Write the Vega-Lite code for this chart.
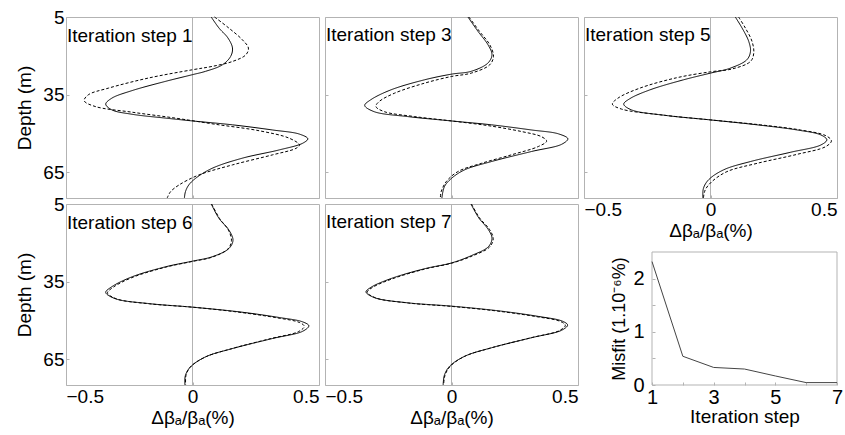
{
  "$schema": "https://vega.github.io/schema/vega-lite/v6.json",
  "padding": {"left": 15, "top": 7, "right": 2, "bottom": 0},
  "background": "white",
  "config": {
    "font": "Liberation Sans",
    "view": {"stroke": "#b3b3b3", "strokeWidth": 1},
    "axis": {"domain": false, "grid": false, "labelFont": "Liberation Sans", "labelFontSize": 19, "labelColor": "#000", "titleFont": "Liberation Sans", "titleFontSize": 19, "titleFontWeight": "normal", "titleColor": "#000", "tickColor": "#b3b3b3", "tickSize": -3, "labelPadding": 5},
    "title": {"font": "Liberation Sans", "fontSize": 19, "fontWeight": "normal", "color": "#000", "anchor": "start", "frame": "group", "baseline": "alphabetic", "dx": 1}
  },
  "datasets": {
    "zero": [{"v": 0}],
    "misfit": [
      {"step": 1, "misfit": 2.32}, {"step": 2, "misfit": 0.54}, {"step": 3, "misfit": 0.33}, {"step": 4, "misfit": 0.30}, {"step": 5, "misfit": 0.17}, {"step": 6, "misfit": 0.045}, {"step": 7, "misfit": 0.045}
    ],
    "profiles": [
      {"p":1,"s":"solid","d":5,"v":0.074},{"p":1,"s":"solid","d":9.3,"v":0.105},{"p":1,"s":"solid","d":13.1,"v":0.140},{"p":1,"s":"solid","d":17.0,"v":0.158},{"p":1,"s":"solid","d":20.2,"v":0.151},{"p":1,"s":"solid","d":23.5,"v":0.118},{"p":1,"s":"solid","d":26.0,"v":0.052},{"p":1,"s":"solid","d":27.3,"v":0},{"p":1,"s":"solid","d":29.9,"v":-0.107},{"p":1,"s":"solid","d":33.5,"v":-0.24},{"p":1,"s":"solid","d":36.4,"v":-0.319},{"p":1,"s":"solid","d":38.7,"v":-0.343},{"p":1,"s":"solid","d":40.9,"v":-0.319},{"p":1,"s":"solid","d":42.6,"v":-0.24},{"p":1,"s":"solid","d":44.1,"v":-0.107},{"p":1,"s":"solid","d":45.2,"v":0},{"p":1,"s":"solid","d":46.7,"v":0.158},{"p":1,"s":"solid","d":48.7,"v":0.317},{"p":1,"s":"solid","d":50.3,"v":0.423},{"p":1,"s":"solid","d":52.1,"v":0.456},{"p":1,"s":"solid","d":53.8,"v":0.436},{"p":1,"s":"solid","d":56.4,"v":0.343},{"p":1,"s":"solid","d":59.6,"v":0.197},{"p":1,"s":"solid","d":63.5,"v":0.078},{"p":1,"s":"solid","d":67.4,"v":0.012},{"p":1,"s":"solid","d":70.0,"v":-0.015},{"p":1,"s":"solid","d":72.6,"v":-0.028},{"p":1,"s":"solid","d":75,"v":-0.032},
      {"p":1,"s":"dashed","d":5,"v":0.087},{"p":1,"s":"dashed","d":9.3,"v":0.144},{"p":1,"s":"dashed","d":13.8,"v":0.197},{"p":1,"s":"dashed","d":17.0,"v":0.221},{"p":1,"s":"dashed","d":19.6,"v":0.211},{"p":1,"s":"dashed","d":22.2,"v":0.158},{"p":1,"s":"dashed","d":24.1,"v":0.078},{"p":1,"s":"dashed","d":25.4,"v":0},{"p":1,"s":"dashed","d":28.6,"v":-0.174},{"p":1,"s":"dashed","d":32.5,"v":-0.332},{"p":1,"s":"dashed","d":35.1,"v":-0.412},{"p":1,"s":"dashed","d":37.4,"v":-0.428},{"p":1,"s":"dashed","d":39.6,"v":-0.385},{"p":1,"s":"dashed","d":41.8,"v":-0.24},{"p":1,"s":"dashed","d":44.1,"v":-0.068},{"p":1,"s":"dashed","d":46.5,"v":0.091},{"p":1,"s":"dashed","d":49.0,"v":0.264},{"p":1,"s":"dashed","d":51.9,"v":0.383},{"p":1,"s":"dashed","d":54.5,"v":0.423},{"p":1,"s":"dashed","d":55.8,"v":0.409},{"p":1,"s":"dashed","d":58.3,"v":0.317},{"p":1,"s":"dashed","d":62.2,"v":0.158},{"p":1,"s":"dashed","d":66.1,"v":0.025},{"p":1,"s":"dashed","d":70.0,"v":-0.054},{"p":1,"s":"dashed","d":72.6,"v":-0.087},{"p":1,"s":"dashed","d":75,"v":-0.10},
      {"p":3,"s":"solid","d":5,"v":0.065},{"p":3,"s":"solid","d":10.6,"v":0.105},{"p":3,"s":"solid","d":15.7,"v":0.144},{"p":3,"s":"solid","d":19.6,"v":0.160},{"p":3,"s":"solid","d":22.8,"v":0.144},{"p":3,"s":"solid","d":26.0,"v":0.078},{"p":3,"s":"solid","d":27.1,"v":0},{"p":3,"s":"solid","d":29.3,"v":-0.107},{"p":3,"s":"solid","d":33.2,"v":-0.24},{"p":3,"s":"solid","d":37.0,"v":-0.319},{"p":3,"s":"solid","d":39.2,"v":-0.343},{"p":3,"s":"solid","d":41.6,"v":-0.306},{"p":3,"s":"solid","d":43.5,"v":-0.174},{"p":3,"s":"solid","d":45.2,"v":0},{"p":3,"s":"solid","d":46.7,"v":0.158},{"p":3,"s":"solid","d":48.7,"v":0.317},{"p":3,"s":"solid","d":50.2,"v":0.423},{"p":3,"s":"solid","d":52.1,"v":0.46},{"p":3,"s":"solid","d":54.2,"v":0.436},{"p":3,"s":"solid","d":57.0,"v":0.317},{"p":3,"s":"solid","d":60.9,"v":0.158},{"p":3,"s":"solid","d":64.1,"v":0.052},{"p":3,"s":"solid","d":67.4,"v":0},{"p":3,"s":"solid","d":70.6,"v":-0.028},{"p":3,"s":"solid","d":75,"v":-0.038},
      {"p":3,"s":"dashed","d":5,"v":0.069},{"p":3,"s":"dashed","d":10.6,"v":0.111},{"p":3,"s":"dashed","d":15.7,"v":0.151},{"p":3,"s":"dashed","d":20.2,"v":0.166},{"p":3,"s":"dashed","d":23.5,"v":0.151},{"p":3,"s":"dashed","d":26.7,"v":0.078},{"p":3,"s":"dashed","d":28.0,"v":0},{"p":3,"s":"dashed","d":30.6,"v":-0.107},{"p":3,"s":"dashed","d":34.5,"v":-0.226},{"p":3,"s":"dashed","d":37.7,"v":-0.286},{"p":3,"s":"dashed","d":39.6,"v":-0.299},{"p":3,"s":"dashed","d":41.6,"v":-0.266},{"p":3,"s":"dashed","d":43.5,"v":-0.147},{"p":3,"s":"dashed","d":45.2,"v":0},{"p":3,"s":"dashed","d":47.0,"v":0.144},{"p":3,"s":"dashed","d":49.3,"v":0.277},{"p":3,"s":"dashed","d":51.3,"v":0.356},{"p":3,"s":"dashed","d":53.0,"v":0.376},{"p":3,"s":"dashed","d":55.1,"v":0.343},{"p":3,"s":"dashed","d":58.3,"v":0.237},{"p":3,"s":"dashed","d":61.6,"v":0.118},{"p":3,"s":"dashed","d":64.8,"v":0.025},{"p":3,"s":"dashed","d":68.7,"v":-0.021},{"p":3,"s":"dashed","d":72.6,"v":-0.041},{"p":3,"s":"dashed","d":75,"v":-0.044},
      {"p":5,"s":"solid","d":5,"v":0.098},{"p":5,"s":"solid","d":9.3,"v":0.125},{"p":5,"s":"solid","d":14.4,"v":0.151},{"p":5,"s":"solid","d":18.3,"v":0.158},{"p":5,"s":"solid","d":21.5,"v":0.144},{"p":5,"s":"solid","d":24.8,"v":0.078},{"p":5,"s":"solid","d":26.7,"v":0},{"p":5,"s":"solid","d":29.3,"v":-0.107},{"p":5,"s":"solid","d":33.2,"v":-0.24},{"p":5,"s":"solid","d":36.6,"v":-0.319},{"p":5,"s":"solid","d":38.7,"v":-0.343},{"p":5,"s":"solid","d":40.9,"v":-0.313},{"p":5,"s":"solid","d":43.1,"v":-0.174},{"p":5,"s":"solid","d":44.8,"v":0},{"p":5,"s":"solid","d":46.7,"v":0.184},{"p":5,"s":"solid","d":48.7,"v":0.343},{"p":5,"s":"solid","d":50.6,"v":0.436},{"p":5,"s":"solid","d":52.5,"v":0.46},{"p":5,"s":"solid","d":54.5,"v":0.436},{"p":5,"s":"solid","d":57.3,"v":0.317},{"p":5,"s":"solid","d":60.9,"v":0.158},{"p":5,"s":"solid","d":64.1,"v":0.052},{"p":5,"s":"solid","d":68.0,"v":-0.008},{"p":5,"s":"solid","d":71.3,"v":-0.028},{"p":5,"s":"solid","d":75,"v":-0.030},
      {"p":5,"s":"dashed","d":5,"v":0.111},{"p":5,"s":"dashed","d":9.3,"v":0.138},{"p":5,"s":"dashed","d":14.4,"v":0.164},{"p":5,"s":"dashed","d":19.0,"v":0.171},{"p":5,"s":"dashed","d":22.2,"v":0.158},{"p":5,"s":"dashed","d":25.1,"v":0.085},{"p":5,"s":"dashed","d":26.2,"v":0},{"p":5,"s":"dashed","d":28.5,"v":-0.134},{"p":5,"s":"dashed","d":32.5,"v":-0.279},{"p":5,"s":"dashed","d":36.4,"v":-0.366},{"p":5,"s":"dashed","d":38.7,"v":-0.388},{"p":5,"s":"dashed","d":40.6,"v":-0.352},{"p":5,"s":"dashed","d":42.8,"v":-0.2},{"p":5,"s":"dashed","d":44.8,"v":0},{"p":5,"s":"dashed","d":46.7,"v":0.197},{"p":5,"s":"dashed","d":48.7,"v":0.356},{"p":5,"s":"dashed","d":50.9,"v":0.456},{"p":5,"s":"dashed","d":52.9,"v":0.478},{"p":5,"s":"dashed","d":55.1,"v":0.456},{"p":5,"s":"dashed","d":58.1,"v":0.343},{"p":5,"s":"dashed","d":61.6,"v":0.184},{"p":5,"s":"dashed","d":64.8,"v":0.065},{"p":5,"s":"dashed","d":68.7,"v":0.005},{"p":5,"s":"dashed","d":71.9,"v":-0.021},{"p":5,"s":"dashed","d":75,"v":-0.028},
      {"p":6,"s":"solid","d":5,"v":0.074},{"p":6,"s":"solid","d":10.6,"v":0.105},{"p":6,"s":"solid","d":15.1,"v":0.144},{"p":6,"s":"solid","d":19.0,"v":0.160},{"p":6,"s":"solid","d":22.2,"v":0.144},{"p":6,"s":"solid","d":25.4,"v":0.078},{"p":6,"s":"solid","d":27.1,"v":0},{"p":6,"s":"solid","d":29.3,"v":-0.107},{"p":6,"s":"solid","d":33.2,"v":-0.24},{"p":6,"s":"solid","d":37.0,"v":-0.319},{"p":6,"s":"solid","d":39.2,"v":-0.343},{"p":6,"s":"solid","d":41.6,"v":-0.306},{"p":6,"s":"solid","d":43.5,"v":-0.174},{"p":6,"s":"solid","d":44.9,"v":0},{"p":6,"s":"solid","d":46.7,"v":0.184},{"p":6,"s":"solid","d":48.9,"v":0.343},{"p":6,"s":"solid","d":50.6,"v":0.436},{"p":6,"s":"solid","d":52.1,"v":0.46},{"p":6,"s":"solid","d":54.2,"v":0.436},{"p":6,"s":"solid","d":57.0,"v":0.317},{"p":6,"s":"solid","d":60.9,"v":0.158},{"p":6,"s":"solid","d":64.1,"v":0.052},{"p":6,"s":"solid","d":68.0,"v":-0.008},{"p":6,"s":"solid","d":71.3,"v":-0.028},{"p":6,"s":"solid","d":75,"v":-0.030},
      {"p":6,"s":"dashed","d":5,"v":0.076},{"p":6,"s":"dashed","d":10.6,"v":0.107},{"p":6,"s":"dashed","d":15.1,"v":0.142},{"p":6,"s":"dashed","d":19.2,"v":0.154},{"p":6,"s":"dashed","d":22.4,"v":0.140},{"p":6,"s":"dashed","d":25.6,"v":0.076},{"p":6,"s":"dashed","d":27.2,"v":0},{"p":6,"s":"dashed","d":29.4,"v":-0.105},{"p":6,"s":"dashed","d":33.3,"v":-0.235},{"p":6,"s":"dashed","d":37.1,"v":-0.312},{"p":6,"s":"dashed","d":39.4,"v":-0.336},{"p":6,"s":"dashed","d":41.7,"v":-0.300},{"p":6,"s":"dashed","d":43.6,"v":-0.170},{"p":6,"s":"dashed","d":44.9,"v":0},{"p":6,"s":"dashed","d":46.8,"v":0.180},{"p":6,"s":"dashed","d":49.0,"v":0.333},{"p":6,"s":"dashed","d":50.8,"v":0.422},{"p":6,"s":"dashed","d":52.3,"v":0.442},{"p":6,"s":"dashed","d":54.3,"v":0.420},{"p":6,"s":"dashed","d":57.1,"v":0.307},{"p":6,"s":"dashed","d":61.0,"v":0.153},{"p":6,"s":"dashed","d":64.3,"v":0.048},{"p":6,"s":"dashed","d":68.2,"v":-0.010},{"p":6,"s":"dashed","d":71.4,"v":-0.026},{"p":6,"s":"dashed","d":75,"v":-0.027},
      {"p":7,"s":"solid","d":5,"v":0.077},{"p":7,"s":"solid","d":10.4,"v":0.108},{"p":7,"s":"solid","d":14.8,"v":0.145},{"p":7,"s":"solid","d":18.2,"v":0.160},{"p":7,"s":"solid","d":21.5,"v":0.146},{"p":7,"s":"solid","d":24.9,"v":0.080},{"p":7,"s":"solid","d":27.8,"v":0},{"p":7,"s":"solid","d":30.0,"v":-0.105},{"p":7,"s":"solid","d":33.8,"v":-0.238},{"p":7,"s":"solid","d":37.2,"v":-0.318},{"p":7,"s":"solid","d":39.0,"v":-0.338},{"p":7,"s":"solid","d":41.2,"v":-0.305},{"p":7,"s":"solid","d":43.2,"v":-0.175},{"p":7,"s":"solid","d":44.5,"v":0},{"p":7,"s":"solid","d":46.3,"v":0.185},{"p":7,"s":"solid","d":48.5,"v":0.345},{"p":7,"s":"solid","d":50.3,"v":0.438},{"p":7,"s":"solid","d":51.8,"v":0.459},{"p":7,"s":"solid","d":53.8,"v":0.436},{"p":7,"s":"solid","d":56.7,"v":0.317},{"p":7,"s":"solid","d":60.6,"v":0.158},{"p":7,"s":"solid","d":63.9,"v":0.052},{"p":7,"s":"solid","d":67.8,"v":-0.008},{"p":7,"s":"solid","d":71.2,"v":-0.028},{"p":7,"s":"solid","d":75,"v":-0.033},
      {"p":7,"s":"dashed","d":5,"v":0.079},{"p":7,"s":"dashed","d":10.4,"v":0.111},{"p":7,"s":"dashed","d":14.8,"v":0.150},{"p":7,"s":"dashed","d":18.4,"v":0.165},{"p":7,"s":"dashed","d":21.7,"v":0.150},{"p":7,"s":"dashed","d":25.1,"v":0.082},{"p":7,"s":"dashed","d":27.9,"v":0},{"p":7,"s":"dashed","d":30.1,"v":-0.103},{"p":7,"s":"dashed","d":33.9,"v":-0.233},{"p":7,"s":"dashed","d":37.3,"v":-0.313},{"p":7,"s":"dashed","d":39.1,"v":-0.333},{"p":7,"s":"dashed","d":41.3,"v":-0.300},{"p":7,"s":"dashed","d":43.3,"v":-0.170},{"p":7,"s":"dashed","d":44.6,"v":0},{"p":7,"s":"dashed","d":46.4,"v":0.181},{"p":7,"s":"dashed","d":48.6,"v":0.338},{"p":7,"s":"dashed","d":50.4,"v":0.430},{"p":7,"s":"dashed","d":51.9,"v":0.450},{"p":7,"s":"dashed","d":53.9,"v":0.428},{"p":7,"s":"dashed","d":56.8,"v":0.311},{"p":7,"s":"dashed","d":60.7,"v":0.155},{"p":7,"s":"dashed","d":64.0,"v":0.050},{"p":7,"s":"dashed","d":67.9,"v":-0.006},{"p":7,"s":"dashed","d":71.3,"v":-0.026},{"p":7,"s":"dashed","d":75,"v":-0.031}
    ]
  },
  "bounds": "flush",
  "spacing": 6,
  "columns": 3,
  "concat": [
    {
      "width": 253, "height": 181,
      "title": {"text": "Iteration step 1", "offset": -38},
      "layer": [
        {"data": {"name": "zero"}, "mark": {"type": "rule", "color": "#b3b3b3", "strokeWidth": 1}, "encoding": {"x": {"field": "v", "type": "quantitative", "scale": {"domain": [-0.5, 0.5], "nice": false}}}},
        {"data": {"name": "profiles"}, "transform": [{"filter": "datum.p == 1"}],
         "mark": {"type": "line", "color": "#000", "strokeWidth": 1, "interpolate": "catmull-rom"},
         "encoding": {
           "x": {"field": "v", "type": "quantitative", "scale": {"domain": [-0.5, 0.5], "nice": false}, "axis": {"values": [-0.5, 0, 0.5], "labels": false, "title": null}},
           "y": {"field": "d", "type": "quantitative", "scale": {"domain": [5, 75], "reverse": true, "nice": false, "zero": false}, "axis": {"values": [5, 35, 65], "title": "Depth (m)", "titlePadding": 8}},
           "order": {"field": "d", "type": "quantitative"},
           "strokeDash": {"field": "s", "type": "nominal", "scale": {"domain": ["solid", "dashed"], "range": [[1, 0], [3, 2]]}, "legend": null}
         }}
      ]
    },
    {
      "width": 253, "height": 181,
      "title": {"text": "Iteration step 3", "offset": -30},
      "layer": [
        {"data": {"name": "zero"}, "mark": {"type": "rule", "color": "#b3b3b3", "strokeWidth": 1}, "encoding": {"x": {"field": "v", "type": "quantitative", "scale": {"domain": [-0.5, 0.5], "nice": false}}}},
        {"data": {"name": "profiles"}, "transform": [{"filter": "datum.p == 3"}],
         "mark": {"type": "line", "color": "#000", "strokeWidth": 1, "interpolate": "catmull-rom"},
         "encoding": {
           "x": {"field": "v", "type": "quantitative", "scale": {"domain": [-0.5, 0.5], "nice": false}, "axis": {"values": [-0.5, 0, 0.5], "labels": false, "title": null}},
           "y": {"field": "d", "type": "quantitative", "scale": {"domain": [5, 75], "reverse": true, "nice": false, "zero": false}, "axis": {"values": [5, 35, 65], "labels": false, "title": null}},
           "order": {"field": "d", "type": "quantitative"},
           "strokeDash": {"field": "s", "type": "nominal", "scale": {"domain": ["solid", "dashed"], "range": [[1, 0], [3, 2]]}, "legend": null}
         }}
      ]
    },
    {
      "width": 253, "height": 181,
      "title": {"text": "Iteration step 5", "offset": -30},
      "layer": [
        {"data": {"name": "zero"}, "mark": {"type": "rule", "color": "#b3b3b3", "strokeWidth": 1}, "encoding": {"x": {"field": "v", "type": "quantitative", "scale": {"domain": [-0.5, 0.5], "nice": false}}}},
        {"data": {"name": "profiles"}, "transform": [{"filter": "datum.p == 5"}],
         "mark": {"type": "line", "color": "#000", "strokeWidth": 1, "interpolate": "catmull-rom"},
         "encoding": {
           "x": {"field": "v", "type": "quantitative", "scale": {"domain": [-0.5, 0.5], "nice": false}, "axis": {"values": [-0.5, 0, 0.5], "labelExpr": "format(datum.value, '~g')", "title": "Δβₐ/βₐ(%)", "titlePadding": 2}},
           "y": {"field": "d", "type": "quantitative", "scale": {"domain": [5, 75], "reverse": true, "nice": false, "zero": false}, "axis": {"values": [5, 35, 65], "labels": false, "title": null}},
           "order": {"field": "d", "type": "quantitative"},
           "strokeDash": {"field": "s", "type": "nominal", "scale": {"domain": ["solid", "dashed"], "range": [[1, 0], [3, 2]]}, "legend": null}
         }}
      ]
    },
    {
      "width": 253, "height": 181,
      "title": {"text": "Iteration step 6", "offset": -38},
      "layer": [
        {"data": {"name": "zero"}, "mark": {"type": "rule", "color": "#b3b3b3", "strokeWidth": 1}, "encoding": {"x": {"field": "v", "type": "quantitative", "scale": {"domain": [-0.5, 0.5], "nice": false}}}},
        {"data": {"name": "profiles"}, "transform": [{"filter": "datum.p == 6"}],
         "mark": {"type": "line", "color": "#000", "strokeWidth": 1, "interpolate": "catmull-rom"},
         "encoding": {
           "x": {"field": "v", "type": "quantitative", "scale": {"domain": [-0.5, 0.5], "nice": false}, "axis": {"values": [-0.5, 0, 0.5], "labelExpr": "format(datum.value, '~g')", "title": "Δβₐ/βₐ(%)", "titlePadding": 2}},
           "y": {"field": "d", "type": "quantitative", "scale": {"domain": [5, 75], "reverse": true, "nice": false, "zero": false}, "axis": {"values": [5, 35, 65], "title": "Depth (m)", "titlePadding": 8}},
           "order": {"field": "d", "type": "quantitative"},
           "strokeDash": {"field": "s", "type": "nominal", "scale": {"domain": ["solid", "dashed"], "range": [[1, 0], [3, 2]]}, "legend": null}
         }}
      ]
    },
    {
      "width": 253, "height": 181,
      "title": {"text": "Iteration step 7", "offset": -30},
      "layer": [
        {"data": {"name": "zero"}, "mark": {"type": "rule", "color": "#b3b3b3", "strokeWidth": 1}, "encoding": {"x": {"field": "v", "type": "quantitative", "scale": {"domain": [-0.5, 0.5], "nice": false}}}},
        {"data": {"name": "profiles"}, "transform": [{"filter": "datum.p == 7"}],
         "mark": {"type": "line", "color": "#000", "strokeWidth": 1, "interpolate": "catmull-rom"},
         "encoding": {
           "x": {"field": "v", "type": "quantitative", "scale": {"domain": [-0.5, 0.5], "nice": false}, "axis": {"values": [-0.5, 0, 0.5], "labelExpr": "format(datum.value, '~g')", "title": "Δβₐ/βₐ(%)", "titlePadding": 2}},
           "y": {"field": "d", "type": "quantitative", "scale": {"domain": [5, 75], "reverse": true, "nice": false, "zero": false}, "axis": {"values": [5, 35, 65], "labels": false, "title": null}},
           "order": {"field": "d", "type": "quantitative"},
           "strokeDash": {"field": "s", "type": "nominal", "scale": {"domain": ["solid", "dashed"], "range": [[1, 0], [3, 2]]}, "legend": null}
         }}
      ]
    },
    {
      "width": 253, "height": 181,
      "view": {"stroke": null},
      "layer": [
        {"data": {"values": [{}]},
         "mark": {"type": "rect", "fillOpacity": 0, "stroke": "#b3b3b3", "strokeWidth": 1},
         "encoding": {
           "x": {"datum": 1, "type": "quantitative", "scale": {"domain": [1, 7], "range": [68, 253], "nice": false, "zero": false}},
           "x2": {"datum": 7},
           "y": {"datum": 0, "type": "quantitative", "scale": {"domain": [0, 2.5], "range": [181, 48], "nice": false, "zero": false}},
           "y2": {"datum": 2.5}
         }},
        {"data": {"name": "misfit"},
         "mark": {"type": "line", "color": "#444", "strokeWidth": 1},
         "encoding": {
           "x": {"field": "step", "type": "quantitative", "scale": {"domain": [1, 7], "range": [68, 253], "nice": false, "zero": false}, "axis": {"values": [1, 2, 3, 4, 5, 6, 7], "labelExpr": "datum.value % 2 == 1 ? datum.label : ''", "labelFlush": false, "labelFontSize": 20, "title": "Iteration step", "titlePadding": 0}},
           "y": {"field": "misfit", "type": "quantitative", "scale": {"domain": [0, 2.5], "range": [181, 48], "nice": false, "zero": false}, "axis": {"values": [0, 0.5, 1, 1.5, 2], "offset": -68, "labelExpr": "datum.value % 1 == 0 ? format(datum.value, 'd') : ''", "labelFontSize": 20, "labelPadding": 11, "title": "Misfit (1.10⁻⁶%)", "titleFontSize": 18, "titlePadding": 4}}
         }}
      ]
    }
  ]
}
